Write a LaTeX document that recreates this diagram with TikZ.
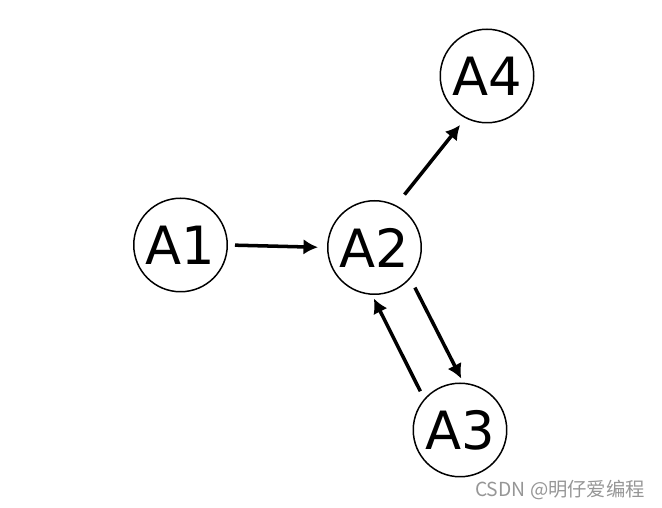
\documentclass[tikz,border=0pt]{standalone}
\usepackage{fontspec}
\setmainfont{DejaVu Sans}
\newfontfamily\cjk{Noto Sans CJK SC}
\usepackage{tikz}
\usetikzlibrary{arrows.meta,positioning}
\definecolor{MarkGray}{RGB}{150,150,150}

\begin{document}
\begin{tikzpicture}[
    state/.style={draw, circle, line width=0.85pt, minimum size=1.87cm, inner sep=0pt, font=\fontsize{30}{30}\selectfont},
    link/.style={-{Latex[length=2.9mm,width=3.1mm]}, line width=2pt}]
        \useasboundingbox (0,0) rectangle (13.24,10.16);
        \node[state] (a1) at (3.61,5.26) {A1};
        \node[state] (a2) at (7.49,5.21) {A2};
        \node[state] (a4) at (9.74,8.64) {A4};
        \node[state] (a3) at (9.20,1.56) {A3};
        \draw[link, shorten <=0.14cm, shorten >=0.18cm] (a1.east) -- (a2.west);
        \draw[link, shorten <=0.27cm, shorten >=0.17cm] (a2.63) -- (a4.-117);
        \draw[link, shorten <=0.20cm, shorten >=0.09cm] (a2.-41) -- (a3.86);
        \draw[link, shorten <=0.17cm, shorten >=0.08cm] (a3.139) -- (a2.-93);
        \node[MarkGray] (mark) at (11.2,0.36) {\fontsize{11}{11}\selectfont\cjk CSDN @明仔爱编程};
      \end{tikzpicture}
\end{document}
